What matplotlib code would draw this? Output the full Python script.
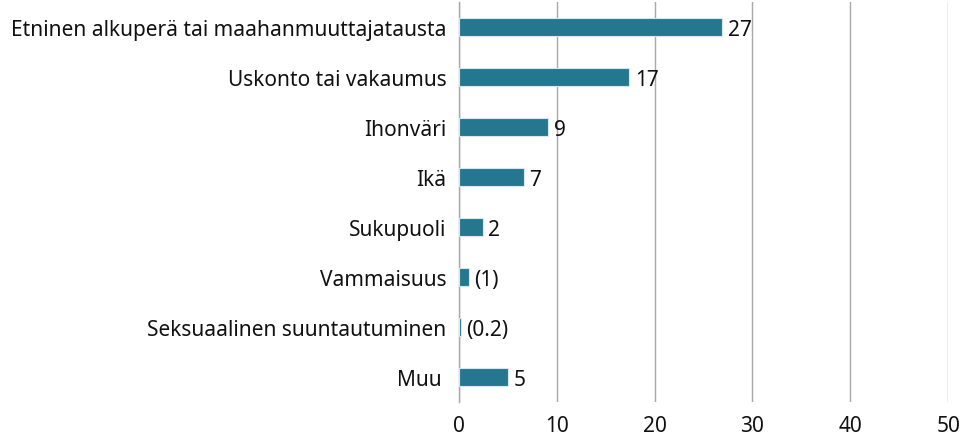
import matplotlib.pyplot as plt

categories = [
    'Etninen alkuperä tai maahanmuuttajatausta',
    'Uskonto tai vakaumus',
    'Ihonväri',
    'Ikä',
    'Sukupuoli',
    'Vammaisuus',
    'Seksuaalinen suuntautuminen',
    'Muu ',
]
values = [26.9, 17.4, 9.1, 6.6, 2.4, 1.0, 0.2, 5.0]
value_labels = ['27', '17', '9', '7', '2', '(1)', '(0.2)', '5']
x_ticks = [0, 10, 20, 30, 40, 50]

plt.rcParams['font.family'] = ['Noto Sans', 'DejaVu Sans']

fig = plt.figure(figsize=(9.66, 4.39), dpi=100)
ax = fig.add_axes([0.4752, 0.082, 0.5063, 0.911])

y = list(range(len(categories)))
bars = ax.barh(y, values, height=0.36, color='#24778f', edgecolor='#d6e8ee', linewidth=0.8, zorder=3)

for b, lab in zip(bars, value_labels):
    ax.annotate(lab, (b.get_width(), b.get_y() + b.get_height() / 2),
                xytext=(4, -1.5), textcoords='offset points',
                va='center', ha='left', fontsize=15, color='#111111', zorder=4)

ax.set_xlim(0, 50)
ax.set_ylim(len(categories) - 0.5, -0.5)
ax.set_yticks(y)
ax.set_yticklabels(categories, fontsize=15, color='#111111')
ax.set_xticks(x_ticks)
ax.set_xticklabels([str(t) for t in x_ticks], fontsize=15, color='#111111')
ax.tick_params(axis='both', length=0)
ax.tick_params(axis='y', pad=9)
ax.tick_params(axis='x', pad=9)

ax.grid(axis='x', color='#a8a8a8', linewidth=1.0, zorder=0)
for s in ['top', 'right', 'bottom']:
    ax.spines[s].set_visible(False)
ax.spines['left'].set_color('#a8a8a8')
ax.spines['left'].set_linewidth(1.0)

fig.savefig('out.png', dpi=100)
